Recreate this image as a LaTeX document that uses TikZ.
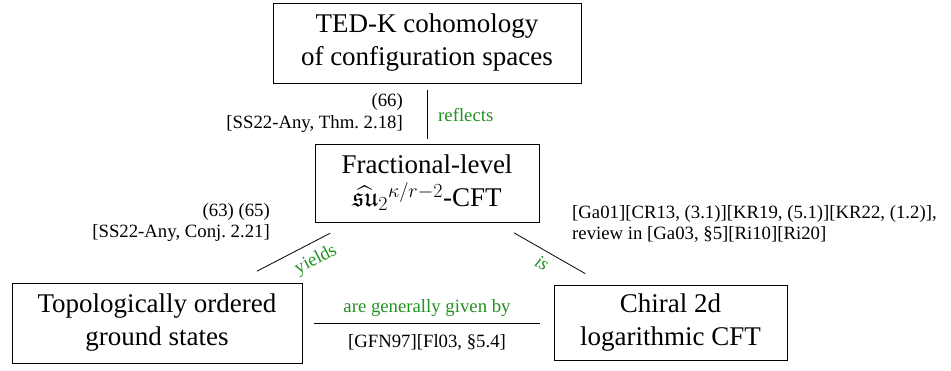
\documentclass[tikz,border=0pt]{standalone}
\usepackage{fix-cm}
\usepackage{amsmath,amssymb}
\usepackage{fontspec}
\setmainfont{Liberation Serif}
\DeclareMathSizes{27}{27}{20}{14}
\definecolor{lblgreen}{RGB}{34,145,34}
\newcommand\mybigfont{\fontsize{27}{33}\selectfont}
\newcommand\mysmallfont{\fontsize{18.75}{21.5}\selectfont}
\tikzset{
  box/.style={draw, line width=0.9pt, inner sep=0pt, align=center, font=\mybigfont},
  cite/.style={font=\mysmallfont, inner sep=0pt},
  lbl/.style={font=\mysmallfont, text=lblgreen, inner sep=0pt},
  conn/.style={line width=0.8pt},
}
\begin{document}
\begin{tikzpicture}[x=1pt,y=1pt]
\useasboundingbox (0,0) rectangle (951,-370);
% boxes
\node[box, minimum width=308pt, minimum height=80pt] (ted) at (427,-43) {TED-K cohomology\\of configuration spaces};
\node[box, minimum width=224pt, minimum height=78pt] (frac) at (427,-183) {Fractional-level\\$\widehat{\mathfrak{su}}_2{}^{\kappa/r-2}$-CFT};
\node[box, minimum width=290pt, minimum height=80pt] (topo) at (157,-323) {Topologically ordered\\ground states};
\node[box, minimum width=233pt, minimum height=75pt] (chiral) at (670.5,-322.5) {Chiral 2d\\logarithmic CFT};
% connectors
\draw[conn, shorten <=7pt, shorten >=5pt] (ted) -- (frac);
\draw[conn, shorten <=23.4pt, shorten >=24.7pt] (frac) -- (topo);
\draw[conn, shorten <=21pt, shorten >=22pt] (frac) -- (chiral);
\draw[conn, shorten <=12pt, shorten >=14pt] (topo.east) -- (topo.east -| chiral.west);
% labels
\node[lbl, anchor=west] (lrefl) at (438,-115) {reflects};
\node[cite, anchor=east, align=right] (crefl) at (403,-113) {(66)\\{}[SS22-Any, Thm.~2.18]};
\node[cite, anchor=east, align=right] (cyield) at (270,-222.5) {(63) (65)\\{}[SS22-Any, Conj.~2.21]};
\node[lbl, rotate=27.5] (lyield) at (316,-260) {yields};
\node[lbl, rotate=-30] (lis) at (542,-263) {\itshape is};
\node[cite, anchor=west, align=left] (cis) at (572,-224) {[Ga01][CR13, (3.1)][KR19, (5.1)][KR22, (1.2)],\\review in [Ga03, \S5][Ri10][Ri20]};
\node[lbl] (lgiven) at (427,-308) {are generally given by};
\node[cite] (cgiven) at (427,-342) {[GFN97][Fl03, \S5.4]};
\end{tikzpicture}
\end{document}
